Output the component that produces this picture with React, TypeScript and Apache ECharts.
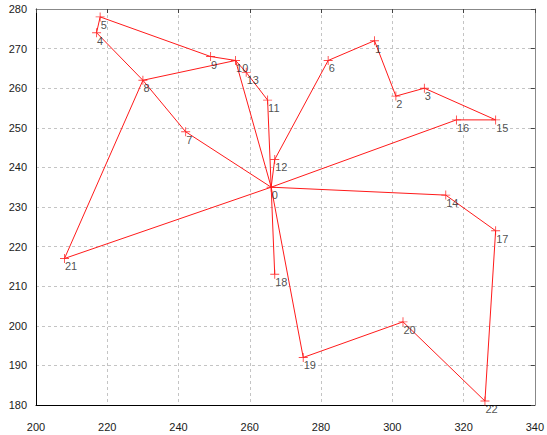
import React, { useEffect, useRef } from "react";
import * as echarts from "echarts";

// Node coordinates (index = node id)
const nodeX = [266, 295, 301, 309, 217, 218, 282, 242, 230, 249, 256, 265, 267, 259, 315, 329, 318, 329, 267, 275, 303, 208, 326];
const nodeY = [235, 272, 258, 260, 274, 278, 267, 249, 262, 268, 267, 257, 242, 264, 233, 252, 252, 224, 213, 192, 201, 217, 181];

// Routes (node sequences)
const routes = [
  [0, 12, 6, 1, 2, 3, 15, 16, 0],
  [0, 14, 17, 22, 20, 19, 0],
  [0, 18],
  [0, 11, 13, 10, 9, 5, 4, 8, 7, 0],
  [0, 10, 8, 21, 0],
];

const xTicks = { min: 200, max: 340, interval: 20 };
const yTicks = { min: 180, max: 280, interval: 10 };

const FONT = "Liberation Sans, Arial, sans-serif";
const RED = "#ff1a1a";

export default function App() {
  const ref = useRef<HTMLDivElement>(null);
  useEffect(() => {
    if (!ref.current) return;
    const chart = echarts.init(ref.current, undefined, { renderer: "svg" });
    const points = nodeX.map((x, i) => [x, nodeY[i], i]);
    const lineSeries = routes.map((r) => ({
      type: "line",
      data: r.map((i) => [nodeX[i], nodeY[i]]),
      symbol: "none",
      lineStyle: { color: RED, width: 1 },
      z: 2,
      silent: true,
    }));
    const mainAxisCommon = {
      type: "value",
      axisLine: { show: true, onZero: false, lineStyle: { color: "#000", width: 1 } },
      axisTick: { show: false },
      splitLine: { show: true, lineStyle: { color: "#c4c4c4", type: [3, 3], width: 1 } },
      axisLabel: { color: "#1a1a1a", fontSize: 11, fontFamily: FONT },
    };
    const sideAxisCommon = {
      type: "value",
      axisLine: { show: true, onZero: false, lineStyle: { color: "#888", width: 1 } },
      axisTick: { show: true, inside: true, length: 4, lineStyle: { color: "#444" } },
      splitLine: { show: false },
      axisLabel: { show: false },
    };
    chart.setOption({
      animation: false,
      backgroundColor: "#fff",
      grid: { left: 36, right: 7, top: 9, bottom: 30, containLabel: false },
      xAxis: [
        { ...mainAxisCommon, position: "bottom", ...xTicks, axisLabel: { ...mainAxisCommon.axisLabel, margin: 16 } },
        { ...sideAxisCommon, position: "top", ...xTicks },
      ],
      yAxis: [
        { ...mainAxisCommon, position: "left", ...yTicks, axisLabel: { ...mainAxisCommon.axisLabel, margin: 9 } },
        { ...sideAxisCommon, position: "right", ...yTicks },
      ],
      series: [
        ...lineSeries,
        {
          type: "scatter",
          data: points,
          symbol: "path://M0,4.5H10V5.5H0Z M4.5,0H5.5V10H4.5Z",
          symbolSize: 9,
          itemStyle: { color: RED },
          z: 3,
          label: {
            show: true,
            formatter: (p: any) => String(p.data[2]),
            position: [5, 7],
            align: "left",
            verticalAlign: "top",
            color: "#222",
            fontSize: 11,
            fontFamily: FONT,
          },
        },
      ],
    });
    return () => chart.dispose();
  }, []);
  return (
    <div
      ref={ref}
      style={{ position: "fixed", left: 0, top: 0, width: 547, height: 435, background: "#fff" }}
    />
  );
}
